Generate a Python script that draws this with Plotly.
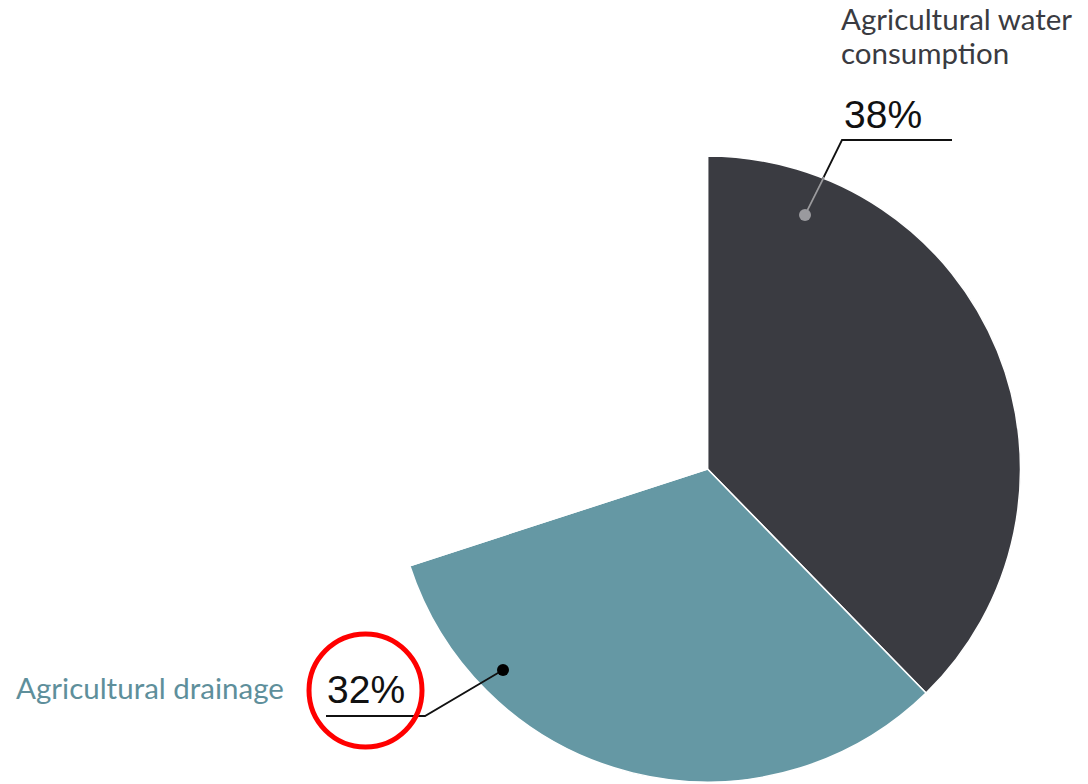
import plotly.graph_objects as go

W, H = 1088, 784

categories = ["Agricultural water consumption", "Agricultural drainage", "Other"]
values = [37.7, 32.3, 30.0]
pct_labels = ["38%", "32%"]
colors = ["#3a3b41", "#6598a4", "rgba(0,0,0,0)"]


def px(x):
    return x / W


def py(y):
    return 1 - y / H


fig = go.Figure()
fig.add_trace(go.Pie(
    labels=categories,
    values=values,
    sort=False,
    direction="clockwise",
    rotation=0,
    marker=dict(colors=colors, line=dict(color="white", width=1.5)),
    textinfo="none",
    hoverinfo="skip",
    showlegend=False,
    domain=dict(x=[px(394.5), px(1020.5)], y=[py(782), py(156)]),
))

shapes = []
# leader line for 38%
shapes.append(dict(type="path", xref="paper", yref="paper",
                   path=f"M {px(805)},{py(215)} L {px(842)},{py(140)} L {px(952)},{py(140)}",
                   line=dict(color="#111111", width=1.8)))
shapes.append(dict(type="line", xref="paper", yref="paper",
                   x0=px(805), y0=py(215), x1=px(824), y1=py(177),
                   line=dict(color="#9a9a9e", width=1.8)))
shapes.append(dict(type="circle", xref="paper", yref="paper",
                   x0=px(799), y0=py(209), x1=px(811), y1=py(221),
                   fillcolor="#9a9a9e", line=dict(width=0)))
# leader line for 32%
shapes.append(dict(type="path", xref="paper", yref="paper",
                   path=f"M {px(503)},{py(670)} L {px(425)},{py(716)} L {px(326)},{py(716)}",
                   line=dict(color="#111111", width=1.8)))
shapes.append(dict(type="circle", xref="paper", yref="paper",
                   x0=px(497), y0=py(664), x1=px(509), y1=py(676),
                   fillcolor="#000000", line=dict(width=0)))
# red highlight circle
shapes.append(dict(type="circle", xref="paper", yref="paper",
                   x0=px(309), y0=py(634), x1=px(422), y1=py(747),
                   line=dict(color="#ff0000", width=5)))

label_font = dict(family="Lato", size=29.5, color="#3a3b41")
pct_font = dict(family="Liberation Sans, Arial", size=39, color="#111111")

annotations = [
    dict(text="Agricultural water", x=px(839), y=py(18), xref="paper", yref="paper",
         xanchor="left", yanchor="middle", align="left", showarrow=False, font=label_font),
    dict(text="consumption", x=px(839), y=py(53), xref="paper", yref="paper",
         xanchor="left", yanchor="middle", align="left", showarrow=False, font=label_font),
    dict(text=pct_labels[0], x=px(842), y=py(114), xref="paper", yref="paper",
         xanchor="left", yanchor="middle", showarrow=False, font=pct_font),
    dict(text=pct_labels[1], x=px(325), y=py(689), xref="paper", yref="paper",
         xanchor="left", yanchor="middle", showarrow=False, font=pct_font),
    dict(text="Agricultural drainage", x=px(14), y=py(687), xref="paper", yref="paper",
         xanchor="left", yanchor="middle", showarrow=False,
         font=dict(family="Lato", size=29.5, color="#5e8f9b")),
]

fig.update_layout(
    width=W, height=H,
    margin=dict(l=0, r=0, t=0, b=0),
    paper_bgcolor="white", plot_bgcolor="white",
    shapes=shapes, annotations=annotations,
)

fig.write_html("out.html")
